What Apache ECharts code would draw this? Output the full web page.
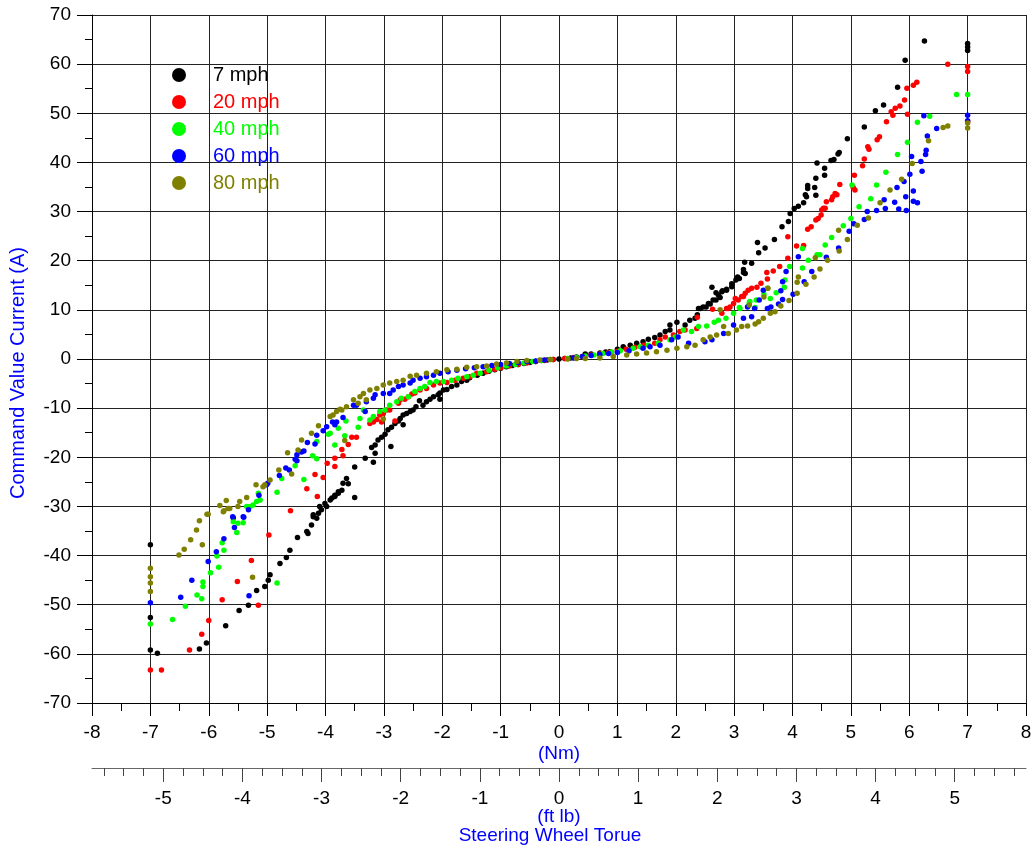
<!DOCTYPE html>
<html>
<head>
<meta charset="utf-8">
<script src="https://cdn.jsdelivr.net/npm/echarts@6/dist/echarts.min.js"></script>
<style>
html,body{margin:0;padding:0;background:#fff;}
#chart{width:1034px;height:852px;}
</style>
</head>
<body>
<div id="chart"></div>
<script>
// ---- data (x: steering wheel torque in Nm, y: command value current in A) ----
var seriesNames = ['7 mph', '20 mph', '40 mph', '60 mph', '80 mph'];
var seriesColors = ['#000000', '#ff0000', '#00ff00', '#0000ff', '#808000'];

var mph7 = [[-7.0,-59.2],[-7.0,-52.6],[-7.0,-37.8],[-6.88,-59.9],[-6.16,-59.0],[-6.04,-57.8],[-5.71,-54.3],[-5.58,-32.3],[-5.48,-51.2],[-5.32,-50.1],[-5.18,-47.1],[-5.04,-46.3],[-4.98,-45.0],[-4.95,-43.9],[-4.78,-41.6],[-4.67,-40.4],[-4.61,-38.9],[-4.48,-36.3],[-4.32,-35.1],[-4.30,-35.5],[-4.24,-33.8],[-4.21,-32.1],[-4.21,-31.7],[-4.15,-32.4],[-4.12,-31.4],[-4.10,-30.0],[-4.07,-30.7],[-4.01,-29.4],[-3.98,-30.0],[-3.92,-28.7],[-3.89,-28.3],[-3.84,-28.0],[-3.84,-27.7],[-3.78,-27.3],[-3.78,-27.0],[-3.72,-26.7],[-3.70,-25.3],[-3.64,-24.3],[-3.61,-25.4],[-3.50,-28.2],[-3.50,-22.0],[-3.32,-20.2],[-3.21,-18.0],[-3.18,-21.0],[-3.15,-19.2],[-3.15,-17.5],[-3.10,-16.5],[-3.04,-15.9],[-2.98,-15.3],[-2.93,-14.4],[-2.88,-17.8],[-2.87,-13.9],[-2.81,-13.1],[-2.75,-12.6],[-2.72,-12.1],[-2.67,-13.4],[-2.67,-11.4],[-2.61,-11.1],[-2.55,-10.7],[-2.50,-10.4],[-2.45,-9.7],[-2.39,-8.5],[-2.33,-9.4],[-2.27,-8.7],[-2.21,-8.2],[-2.15,-7.7],[-2.07,-7.3],[-2.04,-8.2],[-2.04,-6.9],[-1.98,-6.3],[-1.92,-6.2],[-1.84,-5.6],[-1.75,-5.3],[-1.67,-4.6],[-1.58,-4.3],[-1.53,-3.8],[-1.4,-3.3],[-1.3,-2.9],[-1.2,-2.5],[-1.1,-2.2],[-1.0,-1.9],[-0.9,-1.6],[-0.8,-1.3],[-0.7,-1.1],[-0.6,-0.9],[-0.5,-0.7],[-0.4,-0.5],[-0.3,-0.3],[-0.2,-0.2],[-0.1,-0.1],[0,0],[0.1,0.1],[0.2,0.2],[0.3,0.4],[0.45,1.0],[0.55,1.0],[0.70,1.2],[0.80,1.4],[0.87,1.5],[1.0,2.0],[1.10,2.5],[1.22,2.8],[1.33,3.2],[1.44,3.5],[1.53,4.0],[1.64,4.4],[1.73,4.9],[1.82,5.6],[1.90,5.9],[1.90,6.9],[2.02,7.5],[2.16,6.9],[2.24,7.9],[2.33,8.3],[2.37,9.0],[2.39,10.3],[2.42,10.3],[2.47,10.6],[2.52,10.6],[2.56,11.3],[2.59,11.2],[2.62,14.6],[2.64,12.0],[2.69,12.0],[2.69,13.5],[2.73,13.0],[2.76,12.5],[2.79,13.7],[2.80,13.9],[2.87,14.0],[2.87,14.2],[2.96,15.3],[2.96,14.7],[3.03,16.1],[3.06,16.7],[3.09,16.4],[3.16,17.6],[3.16,18.2],[3.18,19.7],[3.19,17.4],[3.30,19.5],[3.40,23.7],[3.42,21.6],[3.53,22.6],[3.69,24.3],[3.82,26.9],[3.93,28.0],[3.96,29.6],[4.03,30.6],[4.10,31.1],[4.19,31.8],[4.22,33.4],[4.24,33.0],[4.26,35.3],[4.26,34.7],[4.38,34.9],[4.40,33.3],[4.40,36.8],[4.42,39.9],[4.55,38.8],[4.55,37.4],[4.66,40.4],[4.71,40.6],[4.78,41.7],[4.80,42.0],[4.94,44.8],[5.23,47.2],[5.42,50.5],[5.56,51.7],[5.80,55.3],[5.93,60.8],[6.26,64.7],[7.0,62.8],[7.0,63.5],[7.0,64.2]];

var mph20 = [[-7.0,-63.3],[-6.81,-63.3],[-6.33,-59.2],[-6.12,-56.0],[-6.0,-53.2],[-5.77,-49.0],[-5.51,-45.3],[-5.27,-41.0],[-5.15,-50.1],[-4.97,-35.8],[-4.60,-30.9],[-4.32,-26.4],[-4.18,-23.5],[-4.14,-28.0],[-4.04,-24.1],[-3.97,-21.2],[-3.84,-21.9],[-3.84,-20.2],[-3.72,-18.4],[-3.70,-19.7],[-3.61,-17.4],[-3.55,-15.9],[-3.47,-15.9],[-3.24,-13.1],[-3.18,-12.8],[-3.12,-12.3],[-3.07,-11.4],[-3.04,-12.8],[-3.01,-11.1],[-2.95,-10.4],[-2.90,-10.4],[-2.81,-12.6],[-2.75,-9.0],[-2.72,-8.3],[-2.64,-8.2],[-2.58,-7.7],[-2.52,-7.1],[-2.47,-6.9],[-2.38,-6.3],[-2.27,-6.0],[-2.15,-5.3],[-2.04,-4.9],[-1.92,-4.8],[-1.78,-4.3],[-1.64,-3.9],[-1.53,-3.6],[-1.41,-2.9],[-1.24,-2.6],[-1.1,-2.1],[-1.0,-1.8],[-0.85,-1.4],[-0.7,-1.1],[-0.55,-0.8],[-0.4,-0.5],[-0.25,-0.3],[-0.1,-0.1],[0.1,0.1],[0.25,0.3],[0.4,0.5],[0.55,0.8],[0.7,1.0],[0.85,1.3],[1.0,1.6],[1.15,2.0],[1.3,2.4],[1.45,2.8],[1.64,3.2],[1.73,3.9],[1.82,4.5],[1.96,4.9],[2.07,5.6],[2.16,5.9],[2.36,6.2],[2.37,8.5],[2.63,10.1],[2.79,9.3],[2.87,10.3],[2.90,10.3],[2.93,10.6],[2.99,11.3],[3.02,12.3],[3.07,12.0],[3.13,12.7],[3.16,12.7],[3.19,13.4],[3.24,14.0],[3.30,14.4],[3.39,14.6],[3.46,15.4],[3.56,17.6],[3.57,16.3],[3.67,17.9],[3.78,18.8],[3.92,20.5],[3.92,24.9],[4.07,23.0],[4.19,23.1],[4.26,26.4],[4.32,26.9],[4.40,28.3],[4.44,28.6],[4.49,29.3],[4.50,30.3],[4.53,30.7],[4.56,30.7],[4.58,32.0],[4.67,32.4],[4.69,33.0],[4.73,33.7],[4.76,33.4],[4.81,35.5],[5.04,34.9],[5.07,34.4],[5.06,37.4],[5.20,39.3],[5.23,40.7],[5.29,43.2],[5.31,42.7],[5.45,44.6],[5.49,45.2],[5.61,48.3],[5.69,50.3],[5.72,49.6],[5.76,51.0],[5.84,51.5],[5.92,52.7],[5.96,55.1],[5.97,49.8],[6.07,55.7],[6.13,56.3],[6.66,60.0],[7.0,58.5],[7.0,59.5],[7.0,48.3]];

var mph40 = [[-7.0,-53.9],[-6.62,-53.0],[-6.40,-50.3],[-6.20,-48.0],[-6.12,-48.8],[-6.10,-45.4],[-6.10,-46.3],[-5.97,-43.5],[-5.86,-40.1],[-5.83,-42.4],[-5.77,-37.4],[-5.74,-38.9],[-5.58,-33.1],[-5.52,-35.3],[-5.50,-33.4],[-5.41,-33.3],[-5.35,-30.0],[-5.29,-30.0],[-5.24,-29.7],[-5.18,-29.0],[-5.15,-27.3],[-5.12,-28.7],[-4.83,-27.1],[-4.83,-45.6],[-4.75,-24.3],[-4.52,-21.7],[-4.37,-24.5],[-4.22,-19.7],[-4.15,-20.3],[-4.15,-16.8],[-3.95,-15.3],[-3.92,-15.1],[-3.84,-17.5],[-3.78,-14.1],[-3.67,-15.6],[-3.65,-12.6],[-3.44,-13.9],[-3.41,-12.1],[-3.35,-10.4],[-3.24,-12.4],[-3.18,-11.7],[-3.07,-10.7],[-2.98,-10.4],[-2.90,-9.4],[-2.78,-8.7],[-2.70,-8.0],[-2.58,-7.7],[-2.47,-6.6],[-2.38,-6.0],[-2.30,-5.6],[-2.21,-4.8],[-2.10,-4.6],[-1.98,-4.6],[-1.84,-4.3],[-1.73,-3.9],[-1.58,-3.6],[-1.47,-3.3],[-1.35,-2.9],[-1.2,-2.3],[-1.05,-1.8],[-0.9,-1.4],[-0.75,-1.1],[-0.6,-0.8],[-0.45,-0.5],[-0.3,-0.3],[-0.15,-0.1],[0.15,0.1],[0.3,0.3],[0.45,0.6],[0.6,0.8],[0.75,1.1],[0.9,1.4],[1.05,1.7],[1.27,2.2],[1.39,2.5],[1.53,2.8],[1.70,3.2],[1.90,3.9],[1.99,4.5],[2.13,5.9],[2.27,5.6],[2.39,6.6],[2.53,6.7],[2.66,7.5],[2.73,7.9],[2.86,8.3],[2.99,9.3],[3.09,10.5],[3.10,10.3],[3.24,10.8],[3.26,11.5],[3.27,11.7],[3.36,10.5],[3.38,12.0],[3.51,13.2],[3.57,14.4],[3.62,12.3],[3.72,13.5],[3.86,14.6],[3.87,16.1],[3.95,18.8],[4.17,18.5],[4.17,22.5],[4.27,20.1],[4.42,21.2],[4.47,21.2],[4.56,23.2],[4.67,24.7],[4.87,27.1],[5.00,28.6],[5.02,35.4],[5.14,31.0],[5.34,32.6],[5.44,35.4],[5.60,38.0],[5.80,41.6],[5.97,44.1],[6.14,48.2],[6.35,49.4],[6.81,53.8],[7.0,53.8]];

var mph60 = [[-7.0,-49.6],[-6.48,-48.5],[-6.29,-45.0],[-6.01,-41.2],[-5.87,-39.2],[-5.74,-36.6],[-5.59,-32.1],[-5.56,-34.3],[-5.41,-32.1],[-5.40,-32.2],[-5.32,-30.7],[-5.31,-48.2],[-5.14,-27.7],[-5.01,-25.6],[-4.99,-25.3],[-4.79,-23.7],[-4.68,-22.2],[-4.62,-22.6],[-4.52,-20.4],[-4.49,-20.7],[-4.49,-19.5],[-4.41,-18.9],[-4.37,-18.7],[-4.31,-17.0],[-4.18,-17.3],[-4.15,-15.5],[-4.04,-14.6],[-3.98,-13.8],[-3.88,-12.8],[-3.84,-13.4],[-3.81,-12.8],[-3.70,-11.9],[-3.52,-9.4],[-3.47,-9.4],[-3.32,-10.7],[-3.30,-8.7],[-3.18,-8.0],[-3.15,-7.3],[-3.01,-7.0],[-2.90,-7.0],[-2.84,-6.3],[-2.75,-5.6],[-2.67,-5.3],[-2.55,-4.9],[-2.50,-4.3],[-2.38,-3.9],[-2.27,-3.6],[-2.15,-3.3],[-2.04,-2.9],[-1.9,-2.6],[-1.75,-2.3],[-1.6,-2.0],[-1.45,-1.8],[-1.3,-1.6],[-1.15,-1.3],[-1.0,-1.1],[-0.85,-0.9],[-0.7,-0.7],[-0.55,-0.5],[-0.4,-0.4],[-0.25,-0.2],[0.25,0.2],[0.4,0.5],[0.55,0.7],[0.7,0.9],[0.85,1.1],[1.0,1.3],[1.2,1.7],[1.44,2.2],[1.56,2.5],[1.73,2.8],[1.93,3.9],[2.04,4.5],[2.22,3.2],[2.50,3.5],[2.62,3.9],[2.82,5.2],[2.99,6.9],[3.16,8.3],[3.23,10.6],[3.30,8.6],[3.35,10.3],[3.43,12.0],[3.50,14.0],[3.57,10.3],[3.63,10.6],[3.76,11.2],[3.80,13.9],[3.83,15.7],[3.83,12.1],[3.89,17.8],[4.01,13.2],[4.10,20.8],[4.20,15.7],[4.33,17.8],[4.58,20.7],[4.79,22.6],[4.97,26.0],[5.05,27.5],[5.23,28.4],[5.28,30.0],[5.44,30.2],[5.57,32.4],[5.59,30.6],[5.75,31.9],[5.79,34.9],[5.82,30.5],[5.91,36.1],[5.94,33.0],[5.95,30.2],[6.01,37.6],[6.04,41.2],[6.07,34.2],[6.07,32.1],[6.14,31.8],[6.20,40.2],[6.22,38.2],[6.25,49.5],[6.28,41.6],[6.29,42.5],[6.31,45.4],[6.47,46.9],[7.0,49.6],[7.0,48.5]];

var mph80 = [[-7.0,-47.3],[-7.0,-45.6],[-7.0,-44.3],[-7.0,-42.6],[-6.51,-39.9],[-6.42,-38.7],[-6.31,-36.8],[-6.21,-34.8],[-6.16,-32.9],[-6.11,-37.8],[-6.03,-31.6],[-6.01,-31.6],[-5.81,-29.8],[-5.75,-31.1],[-5.74,-30.9],[-5.70,-28.8],[-5.67,-30.4],[-5.64,-30.4],[-5.50,-30.0],[-5.47,-29.0],[-5.35,-28.2],[-5.25,-44.4],[-5.19,-25.6],[-5.07,-26.0],[-5.04,-25.6],[-4.95,-24.6],[-4.80,-22.6],[-4.65,-19.1],[-4.58,-23.4],[-4.47,-18.5],[-4.41,-16.5],[-4.24,-15.1],[-4.12,-13.6],[-3.92,-11.7],[-3.87,-11.4],[-3.81,-10.7],[-3.75,-10.2],[-3.72,-10.4],[-3.67,-16.6],[-3.64,-9.7],[-3.52,-8.3],[-3.44,-9.0],[-3.41,-7.7],[-3.35,-7.0],[-3.30,-8.3],[-3.24,-6.3],[-3.12,-6.0],[-3.01,-5.3],[-3.01,-12.2],[-2.90,-4.9],[-2.78,-4.6],[-2.67,-4.3],[-2.55,-3.5],[-2.44,-3.3],[-2.27,-2.9],[-2.10,-2.6],[-1.92,-2.2],[-1.75,-2.1],[-1.58,-1.7],[-1.41,-1.6],[-1.24,-1.4],[-1.07,-1.0],[-0.90,-0.8],[-0.72,-0.5],[-0.55,-0.3],[-0.33,-0.2],[-0.15,-0.1],[0.15,0.0],[0.30,0.1],[0.45,0.1],[0.70,0.2],[0.93,0.5],[1.16,0.8],[1.33,1.0],[1.50,1.2],[1.67,1.5],[1.85,1.8],[2.02,2.2],[2.19,2.5],[2.33,2.8],[2.47,3.9],[2.59,4.5],[2.70,4.9],[2.76,10.0],[2.82,6.6],[2.90,5.2],[3.04,5.9],[3.13,6.6],[3.23,6.7],[3.26,11.0],[3.36,7.1],[3.42,7.6],[3.50,8.3],[3.51,12.6],[3.58,14.4],[3.62,9.3],[3.70,9.6],[3.80,10.8],[3.94,11.9],[4.08,13.4],[4.08,15.6],[4.10,16.7],[4.23,15.2],[4.37,16.7],[4.39,20.6],[4.47,18.3],[4.60,20.1],[4.79,26.2],[4.80,22.0],[4.94,24.3],[5.11,27.2],[5.30,28.7],[5.50,31.8],[5.67,34.4],[5.87,36.6],[6.05,39.8],[6.33,44.4],[6.58,47.1],[6.66,47.4],[7.0,47.0],[7.0,48.0]];

var allSeriesData = [mph7, mph20, mph40, mph60, mph80];

// secondary axis (ft lb) tick labels
var ftLbTickLabels = [-5, -4, -3, -2, -1, 0, 1, 2, 3, 4, 5];
var NM_PER_FTLB = 1.35582;

// ---- build chart ----
var minorFt = [];
for (var q = -23; q <= 23; q++) { if (q % 4 !== 0) minorFt.push(q / 4); }

var FONT = '"Liberation Sans", Arial, sans-serif';
var chart = echarts.init(document.getElementById('chart'), null, {renderer: 'canvas'});

var series = seriesNames.map(function (n, i) {
  return {
    name: n,
    type: 'scatter',
    xAxisIndex: 0,
    yAxisIndex: 0,
    symbol: 'circle',
    symbolSize: 5.5,
    itemStyle: {color: seriesColors[i], opacity: 1},
    emphasis: {disabled: true},
    data: allSeriesData[i],
    z: 2 + i
  };
});

var ftMin = -8 / NM_PER_FTLB, ftMax = 8 / NM_PER_FTLB;

chart.setOption({
  backgroundColor: '#ffffff',
  animation: false,
  textStyle: {fontFamily: FONT},
  grid: {left: 92, top: 15, width: 934, height: 688, containLabel: false, outerBoundsMode: 'none', show: false},
  legend: {
    orient: 'vertical',
    left: 172,
    top: 65,
    padding: 0,
    itemWidth: 14,
    itemHeight: 14,
    itemGap: 7,
    icon: 'circle',
    textStyle: {fontSize: 20, fontFamily: FONT, lineHeight: 20, padding: [0, 0, 0, 22]},
    data: seriesNames.map(function (n, i) {
      return {name: n, icon: 'circle', textStyle: {color: seriesColors[i]}};
    })
  },
  xAxis: [
    {
      type: 'value', gridIndex: 0, position: 'bottom',
      min: -8, max: 8, interval: 1,
      name: '(Nm)', nameLocation: 'middle', nameGap: 41, nameMoveOverlap: false,
      nameTextStyle: {color: '#0000ff', fontSize: 19, fontFamily: FONT},
      axisLine: {show: true, onZero: false, lineStyle: {color: '#000', width: 1}},
      axisTick: {show: true, inside: false, length: 13, lineStyle: {color: '#000'}},
      minorTick: {show: true, splitNumber: 2, length: 8, lineStyle: {color: '#000'}},
      axisLabel: {show: true, margin: 20, fontSize: 19, color: '#000', fontFamily: FONT, showMinLabel: true, showMaxLabel: true},
      splitLine: {show: true, lineStyle: {color: '#222', width: 1}},
      minorSplitLine: {show: false}
    },
    {
      type: 'value', gridIndex: 0, position: 'bottom', offset: 65,
      min: ftMin, max: ftMax,
      name: '{a|(ft lb)}\n{b|Steering Wheel Torue}', nameLocation: 'middle', nameGap: 40, nameMoveOverlap: false,
      nameTextStyle: {color: '#0000ff', fontSize: 19, fontFamily: FONT, lineHeight: 18.5,
        rich: {
          a: {color: '#0000ff', fontSize: 19, fontFamily: FONT, lineHeight: 18.5},
          b: {color: '#0000ff', fontSize: 19, fontFamily: FONT, lineHeight: 18.5, padding: [0, 18, 0, 0]}
        }},
      axisLine: {show: true, onZero: false, lineStyle: {color: '#666', width: 1}},
      axisTick: {show: true, inside: false, length: 14, customValues: ftLbTickLabels, lineStyle: {color: '#444'}},
      axisLabel: {show: true, margin: 21, fontSize: 19, color: '#000', fontFamily: FONT, customValues: ftLbTickLabels,
        formatter: function (v) { return String(Math.round(v)); }},
      splitLine: {show: false}
    },
    {
      type: 'value', gridIndex: 0, position: 'bottom', offset: 65,
      min: ftMin, max: ftMax,
      axisLine: {show: false, onZero: false},
      axisTick: {show: true, inside: false, length: 8, customValues: minorFt, lineStyle: {color: '#444'}},
      axisLabel: {show: false, customValues: minorFt},
      splitLine: {show: false}
    }
  ],
  yAxis: [
    {
      type: 'value', gridIndex: 0, position: 'left',
      min: -70, max: 70, interval: 10,
      name: 'Command Value Current (A)', nameLocation: 'middle', nameGap: 64, nameRotate: 90, nameMoveOverlap: false,
      nameTextStyle: {color: '#0000ff', fontSize: 20, fontFamily: FONT, padding: [0, 28, 0, 0]},
      axisLine: {show: true, onZero: false, lineStyle: {color: '#000', width: 1}},
      axisTick: {show: true, inside: false, length: 15, lineStyle: {color: '#000'}},
      minorTick: {show: true, splitNumber: 2, length: 7, lineStyle: {color: '#000'}},
      axisLabel: {show: true, margin: 21, fontSize: 19, color: '#000', fontFamily: FONT, showMinLabel: true, showMaxLabel: true},
      splitLine: {show: true, lineStyle: {color: '#222', width: 1}}
    }
  ],
  series: series
});
</script>
</body>
</html>
